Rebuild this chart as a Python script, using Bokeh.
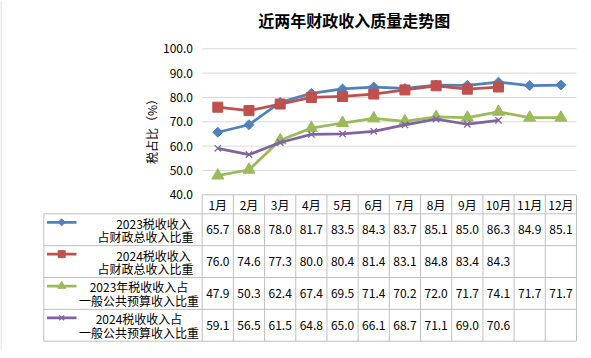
import math
from bokeh.plotting import figure
from bokeh.models import Range1d
from bokeh.core.properties import value
from bokeh.embed import file_html
from bokeh.resources import INLINE

# ---------------- data ----------------
title = "近两年财政收入质量走势图"
y_title = "税占比（%）"
months = ["1月", "2月", "3月", "4月", "5月", "6月", "7月", "8月", "9月", "10月", "11月", "12月"]
y_ticks = [40, 50, 60, 70, 80, 90, 100]

tax_fiscal_2023 = [65.7, 68.8, 78.0, 81.7, 83.5, 84.3, 83.7, 85.1, 85.0, 86.3, 84.9, 85.1]
tax_fiscal_2024 = [76.0, 74.6, 77.3, 80.0, 80.4, 81.4, 83.1, 84.8, 83.4, 84.3]
tax_budget_2023 = [47.9, 50.3, 62.4, 67.4, 69.5, 71.4, 70.2, 72.0, 71.7, 74.1, 71.7, 71.7]
tax_budget_2024 = [59.1, 56.5, 61.5, 64.8, 65.0, 66.1, 68.7, 71.1, 69.0, 70.6]

series_names = [
    ["2023税收收入", "占财政总收入比重"],
    ["2024税收收入", "占财政总收入比重"],
    ["2023年税收收入占", "一般公共预算收入比重"],
    ["2024税收收入占", "一般公共预算收入比重"],
]
series_values = [tax_fiscal_2023, tax_fiscal_2024, tax_budget_2023, tax_budget_2024]

# ---------------- styles / layout (page pixels) ----------------
colors = ["#4F81BD", "#C0504D", "#9BBB59", "#8064A2"]
FONT = value("Noto Sans CJK SC")
W, H = 583, 350
OFF = 0
COL_W = 31.19
PLOT_L = 201.7
PLOT_R = PLOT_L + 12 * COL_W
Y40 = 194.3
PXU = 2.4333          # pixels per value unit
HEAD_BOT = 213.3
ROW_H = 31.85
TAB_L = 43.3
GRID_C = "#D9D9D9"
TAB_C = "#BFBFBF"


def xd(px):
    return (px - (PLOT_L + COL_W / 2)) / COL_W


def yd(py):
    return 40 - (py - Y40) / PXU


p = figure(width=W, height=H, output_backend="svg", toolbar_location=None,
           x_range=Range1d(xd(OFF), xd(OFF + W)), y_range=Range1d(yd(OFF + H), yd(OFF)),
           x_axis_location=None, y_axis_location=None, min_border=0)
p.outline_line_color = None
p.background_fill_color = "white"
p.border_fill_color = "white"
p.grid.visible = False

# chart border (left edge visible)
p.segment(x0=[xd(0.5)], y0=[yd(0)], x1=[xd(0.5)], y1=[yd(H)], line_color=GRID_C, line_width=1)

# gridlines
gt = y_ticks[1:]
p.segment(x0=[xd(PLOT_L)] * len(gt), y0=gt, x1=[xd(PLOT_R)] * len(gt), y1=gt,
          line_color=GRID_C, line_width=1)

# table lines
rows_y = [HEAD_BOT + k * ROW_H for k in range(5)]
p.segment(x0=[xd(TAB_L)] * 5, y0=[yd(v) for v in rows_y], x1=[xd(PLOT_R)] * 5,
          y1=[yd(v) for v in rows_y], line_color=TAB_C, line_width=1)
p.segment(x0=[xd(PLOT_L)], y0=[40], x1=[xd(PLOT_R)], y1=[40], line_color=TAB_C, line_width=1)
vx = [k - 0.5 for k in range(13)]
p.segment(x0=vx, y0=[40] * 13, x1=vx, y1=[yd(rows_y[-1])] * 13, line_color=TAB_C, line_width=1)
p.segment(x0=[xd(TAB_L)], y0=[yd(rows_y[0])], x1=[xd(TAB_L)], y1=[yd(rows_y[-1])],
          line_color=TAB_C, line_width=1)

# series
marker_specs = [
    dict(marker="square", size=7, angle=math.pi / 4),
    dict(marker="square", size=10, angle=0),
    dict(marker="triangle", size=12, angle=0),
    dict(marker="x", size=9, angle=0),
]
leg_specs = [
    dict(marker="square", size=5, angle=math.pi / 4),
    dict(marker="square", size=7, angle=0),
    dict(marker="triangle", size=8, angle=0),
    dict(marker="x", size=7, angle=0),
]
for k, (vals, c) in enumerate(zip(series_values, colors)):
    xs = list(range(len(vals)))
    p.line(xs, vals, line_color=c, line_width=2.75)
    ms = marker_specs[k]
    if ms["marker"] == "x":
        p.scatter(xs, vals, marker="x", size=ms["size"], line_color=c, line_width=1.3)
    else:
        p.scatter(xs, vals, marker=ms["marker"], size=ms["size"], angle=ms["angle"],
                  fill_color=c, line_color=c, line_width=1)

# title
p.text(x=[xd(353.8)], y=[yd(19.5)], text=[title], text_align="center", text_baseline="middle",
       text_font=FONT, text_font_size="16px", text_font_style="bold", text_color="black")

# y tick labels
p.text(x=[xd(192.5)] * len(y_ticks), y=y_ticks, text=[f"{t:.1f}" for t in y_ticks],
       text_align="right", text_baseline="middle", text_font=FONT, text_font_size="12px",
       text_color="black")

# y axis title
p.text(x=[xd(150.5)], y=[yd(128)], text=[y_title], angle=math.pi / 2, text_align="center",
       text_baseline="middle", text_font=FONT, text_font_size="12px", text_color="black")

# month header
p.text(x=list(range(12)), y=[yd(204)] * 12, text=months, text_align="center",
       text_baseline="middle", text_font=FONT, text_font_size="12px", text_color="black")

# table values & legend cells
line_cx = [(153, 145), (153, 145), (138.5, 138.5), (138.5, 138.5)]
for k, vals in enumerate(series_values):
    top = HEAD_BOT + k * ROW_H
    cy = top + ROW_H / 2
    p.text(x=list(range(len(vals))), y=[yd(cy)] * len(vals), text=[f"{v:.1f}" for v in vals],
           text_align="center", text_baseline="middle", text_font=FONT, text_font_size="12px",
           text_color="black")
    l1, l2 = series_names[k]
    p.text(x=[xd(line_cx[k][0]), xd(line_cx[k][1])], y=[yd(cy - 6.5), yd(cy + 7)], text=[l1, l2],
           text_align="center", text_baseline="middle", text_font=FONT, text_font_size="12px",
           text_color="black")
    sy = yd(top + 8.5)
    c = colors[k]
    p.line([xd(46.5), xd(76)], [sy, sy], line_color=c, line_width=2.75)
    ls = leg_specs[k]
    if ls["marker"] == "x":
        p.scatter([xd(61.2)], [sy], marker="x", size=ls["size"], line_color=c, line_width=1.3)
    else:
        p.scatter([xd(61.2)], [sy], marker=ls["marker"], size=ls["size"], angle=ls["angle"],
                  fill_color=c, line_color=c)

open("out.html", "w").write(file_html(p, INLINE))
